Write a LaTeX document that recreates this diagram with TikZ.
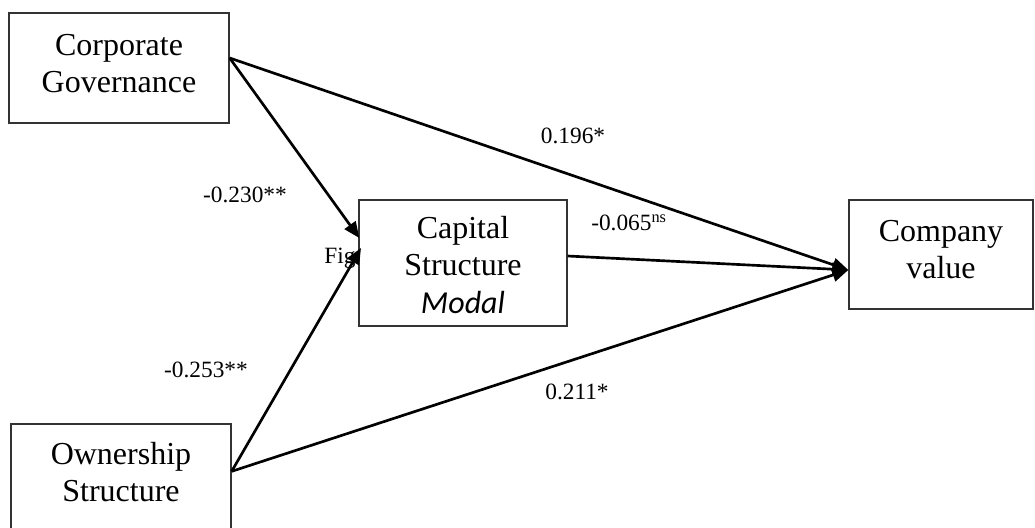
\documentclass[tikz,border=0pt]{standalone}
\usepackage{fontspec}
\setmainfont{Liberation Serif}
\newfontfamily\modalfont{Carlito}
\usetikzlibrary{arrows.meta}
\begin{document}
\begin{tikzpicture}[x=0.75pt,y=-0.75pt,
  box/.style={draw=black!80,line width=1pt,minimum width=#1,inner sep=0pt},
  boxtext/.style={font=\fontsize{24}{27.8}\selectfont,align=center,inner sep=0pt},
  coef/.style={font=\fontsize{17.5}{20}\selectfont,inner sep=0pt},
  path/.style={line width=2pt,-{Triangle[length=12pt,width=10pt]}},
  line/.style={line width=2pt}]
\useasboundingbox (0,0) rectangle (1035,528);
\node[box=165pt,minimum height=82.5pt] (cg) at (119,68) {};
\node[box=156pt,minimum height=94.5pt] (cs) at (463,263) {};
\node[box=138pt,minimum height=81.75pt] (cv) at (941,254.5) {};
\node[box=165pt,minimum height=81pt] (os) at (121,478) {};
\node[boxtext] (cgt) at (119,64) {Corporate\\Governance};
\node[boxtext] (cst) at (463,265) {Capital\\Structure\\{\modalfont\itshape Modal}};
\node[boxtext] (cvt) at (941,250) {Company\\value};
\node[boxtext] (ost) at (121,472) {Ownership\\Structure};
\node[coef] (fig) at (340,258) {Fig};
\coordinate (cgo) at ([yshift=7.5pt]cg.east);
\coordinate (oso) at ([yshift=5pt]os.east);
\coordinate (cvi) at ([yshift=-11.6pt]cv.west);
\draw[path] (cgo) -- ([yshift=18.75pt,xshift=0.75pt]cs.west);
\draw[path] (oso) -- ([yshift=11.25pt,xshift=2pt]cs.west);
\draw[path] ([yshift=5.25pt]cs.east) -- (cvi);
\draw[path] (cgo) -- (cvi);
\draw[path] (oso) -- (cvi);
\node[coef] (c1) at (573,136) {0.196*};
\node[coef] (c2) at (245,195) {-0.230**};
\node[coef] (c3) at (629,223) {-0.065\textsuperscript{ns}};
\node[coef] (c4) at (206,370) {-0.253**};
\node[coef] (c5) at (577,392) {0.211*};
\end{tikzpicture}
\end{document}
